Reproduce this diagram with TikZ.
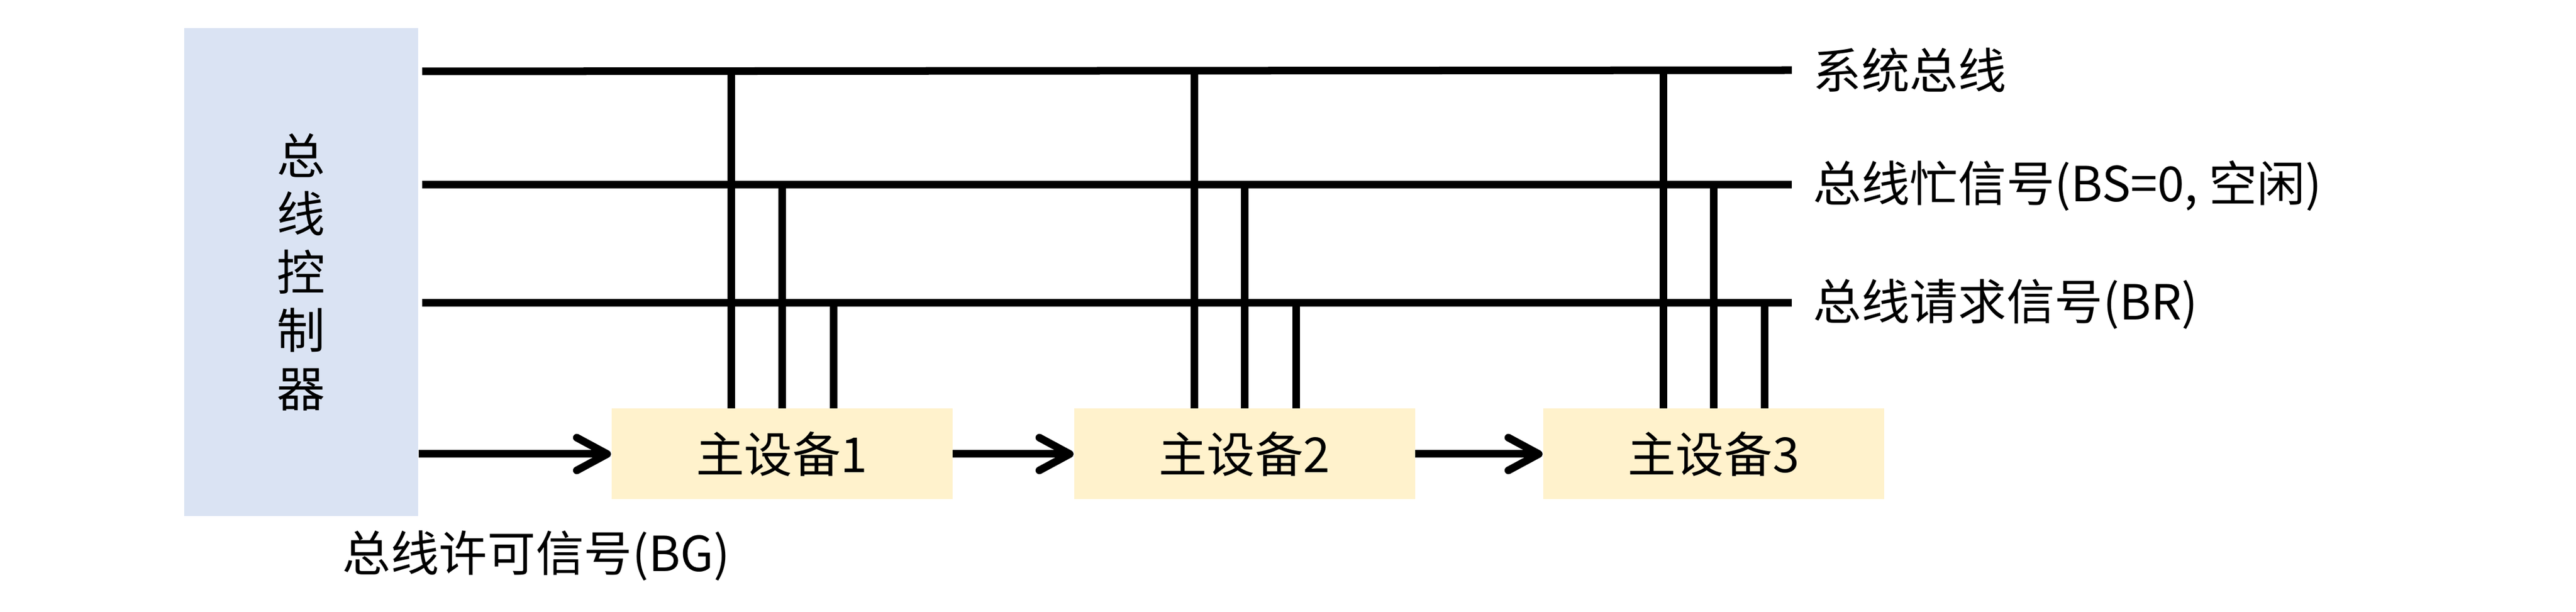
\documentclass[tikz,border=0pt]{standalone}
\usepackage{fontspec}
\setmainfont{Noto Sans CJK SC}
\usetikzlibrary{arrows.meta}
\definecolor{ctrlblue}{HTML}{DAE3F3}
\definecolor{devyellow}{HTML}{FFF2CC}

\begin{document}
\begin{tikzpicture}[>={Straight Barb[length=5.2mm,width=5.6mm,round]},
  every node/.style={font=\fontsize{23.5}{28.3}\selectfont},
  bus/.style={line width=3.7pt},
  ctrl/.style={fill=ctrlblue, minimum width=4cm, minimum height=8.34cm, inner sep=0pt, align=center},
  dev/.style={fill=devyellow, minimum width=5.83cm, minimum height=1.55cm, inner sep=0pt}]

  \useasboundingbox (0,0) rectangle (44.05,-10.46);

  \begin{scope}

  \node[ctrl] (bc) at (5.15,-4.65) {总\\线\\控\\制\\器};

  \node[dev] (m1) at (13.37,-7.76) {主设备1};
  \node[dev] (m2) at (21.28,-7.76) {主设备2};
  \node[dev] (m3) at (29.30,-7.76) {主设备3};

%   bus lines
  \coordinate (b1s) at (7.22,-1.22);
  \coordinate (b1e) at (30.64,-1.20);
  \coordinate (b2s) at (7.22,-3.16);
  \coordinate (b2e) at (30.64,-3.16);
  \coordinate (b3s) at (7.22,-5.18);
  \coordinate (b3e) at (30.64,-5.18);
     \draw[bus] (b1s) -- (b1e);
     \draw[bus] (b2s) -- (b2e);
     \draw[bus] (b3s) -- (b3e);

      \node[anchor=west, inner sep=0pt] (b1_d) at (31.0,-1.20) {系统总线};
      \node[anchor=west, inner sep=0pt] (b2_d) at (31.0,-3.18) {总线忙信号(BS=0, 空闲)};
      \node[anchor=west, inner sep=0pt] (b3_d) at (31.0,-5.20) {总线请求信号(BR)};

%   taps from the masters
     \draw[bus] ([xshift=-8.7mm]m1.north) -- ([xshift=-8.7mm]m1.north |- b1s);
     \draw[bus] (m1.north) -- (m1.north |- b2s);
     \draw[bus] ([xshift=8.8mm]m1.north) -- ([xshift=8.8mm]m1.north |- b3s);

     \draw[bus] ([xshift=-8.6mm]m2.north) -- ([xshift=-8.6mm]m2.north |- b1s);
     \draw[bus] (m2.north) -- (m2.north |- b2s);
     \draw[bus] ([xshift=8.8mm]m2.north) -- ([xshift=8.8mm]m2.north |- b3s);

     \draw[bus] ([xshift=-8.6mm]m3.north) -- ([xshift=-8.6mm]m3.north |- b1s);
     \draw[bus] (m3.north) -- (m3.north |- b2s);
     \draw[bus] ([xshift=8.7mm]m3.north) -- ([xshift=8.7mm]m3.north |- b3s);

%   grant chain
     \draw[bus,->] (bc.east |- m1.west) -- (m1.west);
     \draw[bus,->] (m1.east) -- (m2.west);
     \draw[bus,->] (m2.east) -- (m3.west);

      \node (bg) at (9.17,-9.50) {总线许可信号(BG)};

  \end{scope}
\end{tikzpicture}
\end{document}
